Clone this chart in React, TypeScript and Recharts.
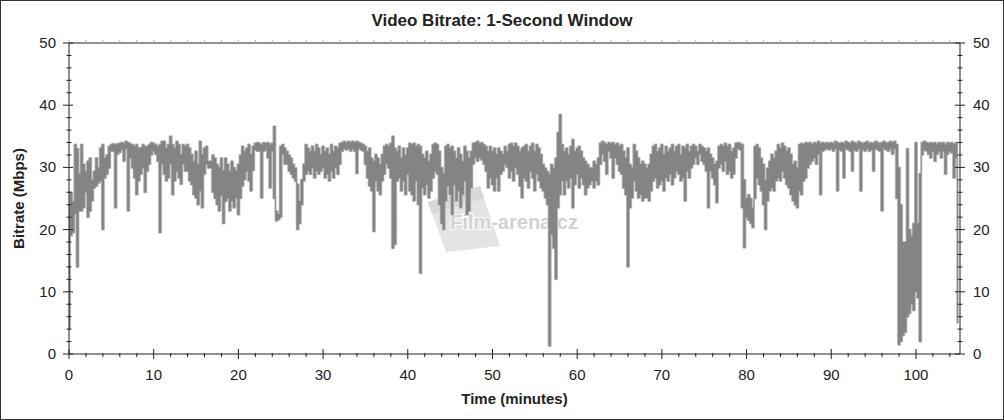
import React from 'react';
import { ComposedChart, Area, XAxis, YAxis } from 'recharts';

// Sampling interval of the series (minutes)
const STEP = 0.25;

// Upper / lower envelope of the 1-second bitrate (Mbps), one value per 0.25 min
const hi00 = [24,26,24.5,33.7,33,29,33.7,30.5,29.4,31,31.5,28,29.4,31.5,30,33.1,33.7,31.5,32,33.4,33.7,33.8,33.7,33.8,33.9,34,33.9,34.2,34,33.8,33.7,33.4,33.7,33.1,33.2,33.7,33.4,33.4,33.7,34];
const lo00 = [4,19,19.5,22.5,14,23,23,23.5,26,22,23,24.6,26.7,27,27.5,27.8,20,28.3,28.9,29.9,32.6,32.6,23.5,32.1,32.4,32.8,31,33,23,31.5,29.9,28.3,25.6,27.8,28.9,29.9,26,29.4,30.5,32];
const hi10 = [33.9,33.7,33.4,33.7,34.2,34.2,33.1,33.7,35,33.7,33.1,34.2,33.7,32.1,33.7,33.4,33.7,33.1,32.1,31,32.6,30.5,34.2,32.1,33.1,33.4,31,31,32,31.5,30.5,30,31.5,29.5,31.5,30.5,29.4,31,30,29.5];
const lo10 = [32.6,32.1,31,19.5,30.5,28.9,27.8,28.3,30.5,25.6,27.8,29.4,28.3,27.3,30.5,29.4,29.4,27.8,27.2,25.6,25.1,24,26.2,23.5,28.9,30.5,29.9,29.9,26,25,24,23,25.5,21,24.5,25,23,24.6,23.5,25.1];
const hi20 = [30.5,32,33.4,32.6,33.1,33.7,32.1,33.4,33.9,34,33.9,33.7,34,33.9,34,33.7,33.9,36.6,23,22.5,33.4,33.7,33.1,32.6,32,31.5,30.5,29.9,27.3,24.6,28,30.5,33.7,33.1,32.6,33.4,32.6,33.7,33.1,32.1];
const lo20 = [22.4,25,27,28,29.4,27.8,26.2,29.5,32.8,32.6,32.6,25.1,32.6,32.8,31.5,26.7,32.6,25,21.4,21.6,22,32.1,30.5,30.5,29.4,28.9,28.3,27.8,20,21,24,27.8,28.9,29.4,28.9,29.9,28.3,29.4,28.9,29.4];
const hi30 = [33.4,32.6,33.1,32.1,33.7,32.6,33.4,33.1,33.9,34,34.2,34,34.2,34,34.2,34,34.2,34,33.9,33.7,33.4,32.6,33.1,31.5,31,32.1,31.5,30.5,32.1,33.4,33.7,33.4,33.9,35,33.1,32.6,33.4,31.5,33.1,32];
const lo30 = [29.9,28.3,28.9,27.8,29.4,28.3,29.9,28.9,30.5,32.6,33,32.8,33,32.6,32.9,32.6,29,33,32.8,32.6,30.5,28.3,27,26.2,19.7,27.8,26.2,25.6,27.8,28.9,30.5,29.9,28.3,17,17.6,27.8,28.3,26.2,27.8,25.6];
const hi40 = [33.1,33.9,33.7,33.9,33.4,33.7,33.4,32.1,31.5,32.6,31,32.1,33.7,33.9,33.7,32.6,30,29,33.4,33.7,33.1,33.4,32.6,31.5,33.1,32.1,31,33.4,32.6,31.5,32.6,33.9,34,34.2,33.9,34,33.7,33.4,32.6,33.4];
const lo40 = [28.9,26.2,25.6,24.6,27.8,24,13,26.7,25.6,27.2,25.1,26.2,28.3,29.4,28.9,24,21,20,24.6,27,25.6,22.4,27.2,24.6,26.2,23.5,25.6,27.8,22.4,23,26.7,30.5,31.5,31,31.5,31.2,30.5,29.4,26.7,28.3];
const hi50 = [32.6,33.1,32.1,33.1,32.6,32.1,33.4,32.6,33.7,33.9,33.4,33.9,33.4,32.6,33.1,33.4,33.7,32.6,33.4,33.9,32.6,33.7,33.1,32.1,30.5,29.9,29.4,28.9,30.5,29.9,31.5,35.6,38.5,33.7,32.6,33.1,32.1,33.4,34.5,32.6];
const lo50 = [27.2,26.2,28.3,26.2,28.9,29.4,30.5,30,28.3,29.4,27.8,29.9,28.9,27,25.1,28.3,27.8,26.7,29.4,28.3,26.2,28.9,27.8,26.7,26.2,25.1,24,1.3,19.2,17,12,23.5,25.6,27.8,25.6,27.8,26.7,28.3,23.5,27.2];
const hi60 = [33.1,33.4,32.6,31.5,31,30.5,30,29.9,31,30.5,31.5,33.9,34.2,34,33.7,34,33.9,34,33.7,33.9,33.4,33.7,32.6,31.5,33.1,30.5,30,33.7,32.6,31.5,30.5,31,30.5,29.9,30.5,32.1,33.4,33.7,32.6,33.1];
const lo60 = [28.9,26.7,28.3,27.2,25.6,26.7,27.2,27.8,26.7,27.8,27.2,30.5,32.1,31,28.9,32.6,31.5,28.3,31.5,30.5,29.4,28.9,26.7,25.6,14,23.5,25.1,27.8,26.2,25.1,25.6,24.6,25.1,25.1,24.6,26.2,27.8,28.3,26.7,27.2];
const hi70 = [33.7,32.1,33.4,32.6,33.1,33.7,32.6,33.4,33.7,32.1,33.4,33.1,33.7,32.6,33.4,33.7,33.4,32.6,33.7,33.4,33.1,32.6,33.1,32.1,31.5,30.5,31,33.4,33.7,33.4,33.9,33.4,33.7,32.6,33.1,33.9,34,33.9,33.7,28];
const lo70 = [27.8,26.2,28.3,27.8,28.9,27.2,28.3,29.4,28.9,27.8,28.3,24.6,29.4,28.3,29.9,30.5,31.5,30.5,32.1,31,30.5,29.4,23.5,29.4,28.3,27.2,24.3,29.9,30.5,29.4,31,28.9,29.4,28.3,28.9,31.5,33,32.8,23.5,17.1];
const hi80 = [25,25.6,25,23.5,33.4,33.7,33.1,31.5,30.5,28,29.9,31,32.1,31.5,32.6,33.7,33.1,33.9,33.4,32.6,33.1,32.1,30.5,31,30,33.7,33.9,33.7,34,33.9,34,33.7,34,33.9,34.2,33.9,34,33.9,34,33.9];
const lo80 = [22,21.5,21,20.3,25,28.3,27.2,26.2,24,20,24.6,26.2,26.7,26.2,27.8,28.3,27.8,29.4,28.3,27.2,26.7,25.6,24.6,24,23.5,26.2,25.6,27.8,28.3,29.9,30.5,31,31.5,30.5,32.1,25.6,32.6,32.8,33,32.8];
const hi90 = [34,33.9,34.2,34,33.9,34,33.9,34.2,34,33.9,34.2,34,33.9,34.2,34,33.9,34,34.2,33.9,34,33.9,34.2,34,33.9,34,34.2,33.9,34,34.2,34,34.2,33.7,30,24,18,18,33,20,19,21];
const lo90 = [33,32.6,33,26.2,32.8,32.6,28.3,33,32.8,32.6,29.4,32.8,32.6,33,26.2,32.8,32.6,33,32.6,32.8,29.4,33,32.8,32.6,23,33,32.8,32.6,33,32.1,33,25,1.5,2,3,3.5,6,6.5,8,7];
const hi100 = [34,21,29,34,34.2,34,33.9,34,33.9,34,33.7,34,33.9,34,33.7,34,33.9,34,33.7,34,28];
const lo100 = [10,9,2,32,32.8,32.6,32.1,31.5,32.6,31,32.1,32.6,31.5,32.6,28.9,32.1,32.6,32.3,28.3,31.5,5];

// Axis ticks and labels
const xMinorTicks = [0,2,4,6,8,10,12,14,16,18,20,22,24,26,28,30,32,34,36,38,40,42,44,46,48,50,52,54,56,58,60,62,64,66,68,70,72,74,76,78,80,82,84,86,88,90,92,94,96,98,100,102,104];
const xLabels = [0,10,20,30,40,50,60,70,80,90,100];
const yMinorTicks = [0,2,4,6,8,10,12,14,16,18,20,22,24,26,28,30,32,34,36,38,40,42,44,46,48,50];
const yLabels = [0,10,20,30,40,50];

const TITLE = 'Video Bitrate: 1-Second Window';
const X_TITLE = 'Time (minutes)';
const Y_TITLE = 'Bitrate (Mbps)';
const WATERMARK = 'Film-arena.cz';

const hiAll = [...hi00, ...hi10, ...hi20, ...hi30, ...hi40, ...hi50, ...hi60, ...hi70, ...hi80, ...hi90, ...hi100];
const loAll = [...lo00, ...lo10, ...lo20, ...lo30, ...lo40, ...lo50, ...lo60, ...lo70, ...lo80, ...lo90, ...lo100];
const data = hiAll.map((h, i) => ({ t: i * STEP, band: [loAll[i], h] }));

const FONT = '"Liberation Sans", Arial, Helvetica, sans-serif';
const AXIS = '#222';
const TEXT = '#222';

function BottomTick(props: any) {
  const { x, y, payload } = props;
  const v = payload.value;
  const major = xLabels.includes(v);
  return (
    <g>
      <line x1={x} x2={x} y1={major ? y - 5 : y - 1} y2={major ? y + 5 : y + 3} stroke={AXIS} strokeWidth={1} />
      {major && (
        <text x={x} y={y + 26} textAnchor="middle" fontFamily={FONT} fontSize={15} fill={TEXT}>
          {v}
        </text>
      )}
    </g>
  );
}

function TopTick(props: any) {
  const { x, y } = props;
  return <line x1={x} x2={x} y1={y} y2={y - 3} stroke="#b0b0b0" strokeWidth={1} />;
}

function LeftTick(props: any) {
  const { x, y, payload } = props;
  const v = payload.value;
  const major = yLabels.includes(v);
  return (
    <g>
      <line x1={major ? x - 6 : x - 2.5} x2={major ? x + 4 : x + 2.5} y1={y} y2={y} stroke={AXIS} strokeWidth={1} />
      {major && (
        <text x={x - 13} y={y + 5} textAnchor="end" fontFamily={FONT} fontSize={15} fill={TEXT}>
          {v}
        </text>
      )}
    </g>
  );
}

function RightTick(props: any) {
  const { x, y, payload } = props;
  const v = payload.value;
  const major = yLabels.includes(v);
  return (
    <g>
      <line x1={major ? x - 5 : x - 2.5} x2={major ? x + 5 : x + 2.5} y1={y} y2={y} stroke={AXIS} strokeWidth={1} />
      {major && (
        <text x={x + 13} y={y + 5} textAnchor="start" fontFamily={FONT} fontSize={15} fill={TEXT}>
          {v}
        </text>
      )}
    </g>
  );
}

export default function App() {
  return (
    <div style={{ position: 'absolute', left: 0, top: 0, width: 1004, height: 420, background: '#fff', overflow: 'hidden' }}>
      {/* background layer: titles and watermark */}
      <svg width={1004} height={420} style={{ position: 'absolute', left: 0, top: 0 }}>
        <polygon points="428,202 480,186 500,246 446,252" fill="#e4e4e4" />
        <polygon points="428,202 480,186 484,198 432,214" fill="#d8d8d8" />
        <text x={514} y={229} textAnchor="middle" fontFamily={FONT} fontWeight="bold" fontSize={20}
          fill="#d2d2d2" stroke="#ffffff" strokeWidth={2} style={{ paintOrder: 'stroke' }}>
          {WATERMARK}
        </text>
        <text x={502} y={26} textAnchor="middle" fontFamily={FONT} fontWeight="bold" fontSize={17} fill={TEXT}>
          {TITLE}
        </text>
        <text x={514.5} y={404} textAnchor="middle" fontFamily={FONT} fontWeight="bold" fontSize={15} fill={TEXT}>
          {X_TITLE}
        </text>
        <text x={24} y={198.5} textAnchor="middle" fontFamily={FONT} fontWeight="bold" fontSize={15} fill={TEXT}
          transform="rotate(-90 24 198.5)">
          {Y_TITLE}
        </text>
      </svg>
      <div style={{ position: 'absolute', left: 0, top: 0 }}>
        <ComposedChart width={1004} height={420} data={data} margin={{ top: 42, right: 0, bottom: 0, left: 0 }}>
          <XAxis dataKey="t" type="number" domain={[0, 105.2]} allowDataOverflow ticks={xMinorTicks} interval={0}
            height={66} tickSize={0} tickMargin={0} tick={<BottomTick />} axisLine={{ stroke: AXIS }} />
          <XAxis xAxisId="top" orientation="top" dataKey="t" type="number" domain={[0, 105.2]} allowDataOverflow
            ticks={xMinorTicks} interval={0} height={1} tickSize={0} tickMargin={0} tick={<TopTick />}
            axisLine={{ stroke: AXIS }} />
          <YAxis type="number" domain={[0, 50]} allowDataOverflow ticks={yMinorTicks} interval={0} width={69}
            tickSize={0} tickMargin={0} tick={<LeftTick />} axisLine={{ stroke: AXIS }} />
          <YAxis yAxisId="right" orientation="right" type="number" domain={[0, 50]} allowDataOverflow ticks={yMinorTicks}
            interval={0} width={44} tickSize={0} tickMargin={0} tick={<RightTick />} axisLine={{ stroke: AXIS }} />
          <Area type="step" dataKey="band" stroke="#cacaca" strokeWidth={2} strokeLinejoin="round" fill="#cacaca"
            fillOpacity={1} isAnimationActive={false} dot={false} activeDot={false} />
          <Area type="step" dataKey="band" stroke="#848484" strokeWidth={0.5} fill="#848484" fillOpacity={1}
            isAnimationActive={false} dot={false} activeDot={false} />
        </ComposedChart>
      </div>
      <div style={{ position: 'absolute', left: 0, top: 0, width: 1004, height: 420, boxSizing: 'border-box',
        border: '1px solid #333', pointerEvents: 'none' }} />
    </div>
  );
}
